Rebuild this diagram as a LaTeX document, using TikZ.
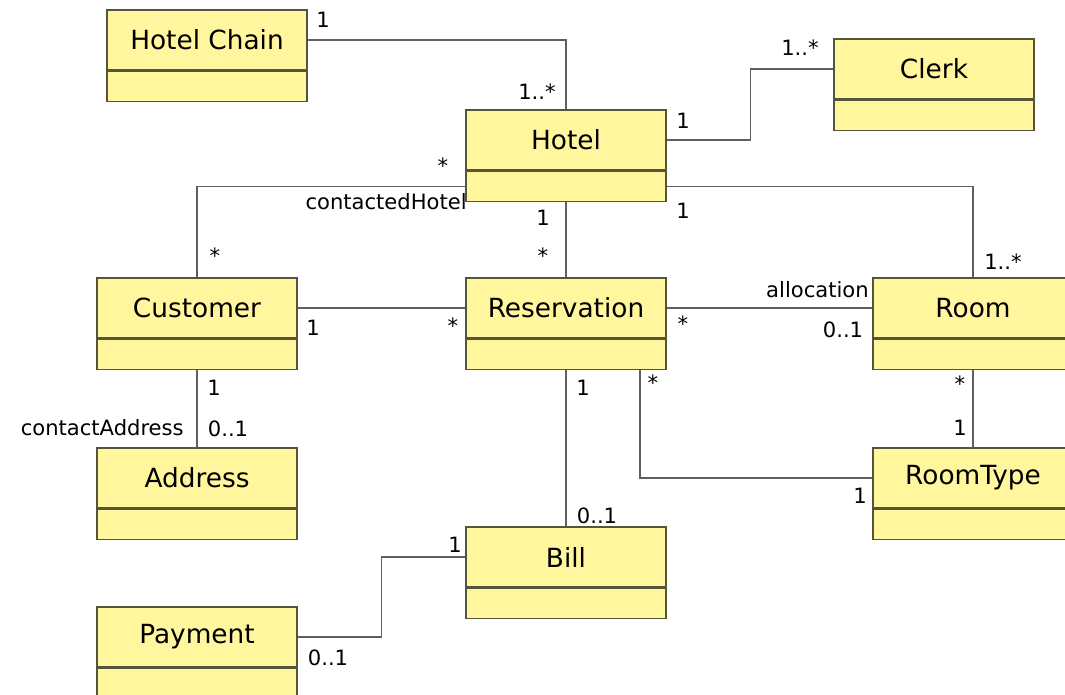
\documentclass[tikz,border=0pt]{standalone}
\usepackage{fontspec}
\setmainfont{DejaVu Sans}

\definecolor{clsfill}{RGB}{255,246,158}
\definecolor{clsline}{RGB}{85,85,60}
\definecolor{assocline}{RGB}{95,95,95}

\tikzset{
  cls/.style = {draw = clsline, fill = clsfill, line width = .8pt, minimum width = 4cm, minimum height = 1.2cm, inner sep = 0pt, font = \fontsize{15}{17}\selectfont},
  attr/.style = {draw = clsline, fill = clsfill, line width = .8pt, minimum width = 4cm, minimum height = .6cm, inner sep = 0pt, anchor = north},
  mult/.style = {font = \fontsize{12}{14}\selectfont, inner sep = 0pt},
  assoc/.style = {draw = assocline, line width = .7pt}
}

\newcommand{\UmlClass}[4]{%
  \node[cls] (#1) at (#2,#3) {#4};
  \node[attr] (#1-a) at (#1.south) {};
}

\begin{document}
\begin{tikzpicture}[x = 0.02cm, y = -0.02cm]

\useasboundingbox (0,0) rectangle (1065,695);

\UmlClass{chain}{207}{40}{Hotel Chain}
\UmlClass{hotel}{566}{140}{Hotel}
\UmlClass{clerk}{934}{69}{Clerk}

\UmlClass{customer}{197}{308}{Customer}
\UmlClass{reservation}{566}{308}{Reservation}
\UmlClass{room}{973}{308}{Room}

\UmlClass{address}{197}{478}{Address}
\UmlClass{roomtype}{973}{478}{RoomType}
\UmlClass{bill}{566}{557}{Bill}
\UmlClass{payment}{197}{637}{Payment}

\draw[assoc] (chain.east) -| (hotel.north);
\draw[assoc] (hotel.east) -- ++(84,0) |- (clerk.west);
\draw[assoc] (hotel-a.east) -| (room.north);
\draw[assoc] (hotel-a.west) -| (customer.north);
\draw[assoc] (hotel-a.south) -- (reservation.north);

\draw[assoc] (customer.east) -- (reservation.west);
\draw[assoc] (reservation.east) -- (room.west);
\draw[assoc] (customer-a.south) -- (address.north);
\draw[assoc] (room-a.south) -- (roomtype.north);
\draw[assoc] ([xshift = 1.48cm]reservation-a.south) |- (roomtype.west);
\draw[assoc] (reservation-a.south) -- (bill.north);
\draw[assoc] (bill.west) -- ++(-84,0) |- (payment.east);

\node[mult] (m1) at (323,20) {1};
\node[mult] (m2) at (537,92) {1..*};
\node[mult] (m3) at (683,121) {1};
\node[mult] (m4) at (800,48) {1..*};
\node[mult] (m5) at (443,166) {*};
\node[mult, anchor = east] (m6) at (467,202) {contactedHotel};
\node[mult] (m7) at (215,256) {*};
\node[mult] (m8) at (543,218) {1};
\node[mult] (m9) at (543,256) {*};
\node[mult] (m10) at (683,211) {1};
\node[mult] (m11) at (1003,262) {1..*};

\node[mult] (m12) at (313,328) {1};
\node[mult] (m13) at (453,326) {*};
\node[mult] (m14) at (683,324) {*};
\node[mult, anchor = east] (m15) at (869,290) {allocation};
\node[mult] (m16) at (843,330) {0..1};

\node[mult] (m17) at (214,388) {1};
\node[mult] (m18) at (228,429) {0..1};
\node[mult, anchor = east] (m19) at (184,428) {contactAddress};
\node[mult] (m20) at (583,388) {1};
\node[mult] (m21) at (653,383) {*};
\node[mult] (m22) at (960,384) {*};
\node[mult] (m23) at (960,428) {1};
\node[mult] (m24) at (860,496) {1};
\node[mult] (m25) at (597,516) {0..1};
\node[mult] (m26) at (455,545) {1};
\node[mult] (m27) at (328,658) {0..1};

\end{tikzpicture}
\end{document}
